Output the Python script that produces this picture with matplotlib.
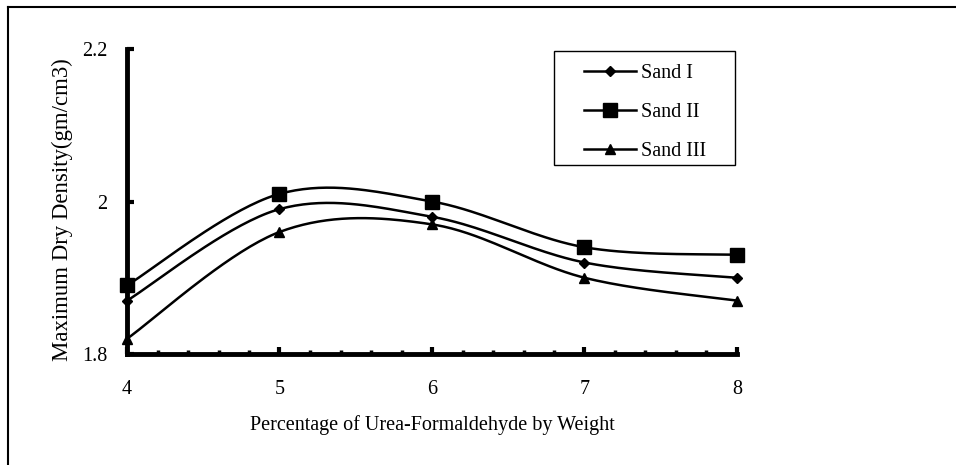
import numpy as np
import matplotlib.pyplot as plt
from matplotlib.lines import Line2D
from matplotlib.patches import Rectangle

# data
pct = [4, 5, 6, 7, 8]
sand_1 = [1.87, 1.99, 1.98, 1.92, 1.90]
sand_2 = [1.89, 2.01, 2.00, 1.94, 1.93]
sand_3 = [1.82, 1.96, 1.97, 1.90, 1.87]
names = ["Sand I", "Sand II", "Sand III"]


def smooth(x, y, n=40):
    """Excel-like smoothed line (Catmull-Rom bezier through the points)."""
    x = np.asarray(x, float)
    y = np.asarray(y, float)
    px = np.r_[x[0], x, x[-1]]
    py = np.r_[y[0], y, y[-1]]
    xs, ys = [], []
    t = np.linspace(0, 1, n)
    for i in range(1, len(px) - 2):
        p0 = np.array([px[i], py[i]])
        p3 = np.array([px[i + 1], py[i + 1]])
        c1 = p0 + (np.array([px[i + 1], py[i + 1]]) - np.array([px[i - 1], py[i - 1]])) / 6
        c2 = p3 - (np.array([px[i + 2], py[i + 2]]) - np.array([px[i], py[i]])) / 6
        b = ((1 - t) ** 3)[:, None] * p0 + (3 * (1 - t) ** 2 * t)[:, None] * c1 \
            + (3 * (1 - t) * t ** 2)[:, None] * c2 + (t ** 3)[:, None] * p3
        xs.append(b[:, 0])
        ys.append(b[:, 1])
    return np.concatenate(xs), np.concatenate(ys)


plt.rcParams['font.family'] = ['Liberation Serif', 'DejaVu Serif']
plt.rcParams['font.size'] = 14.5

W, H = 956, 465
fig = plt.figure(figsize=(W / 100, H / 100), dpi=100)
ax = fig.add_axes([127 / W, 1 - 354 / H, 610 / W, 305 / H])

styles = [dict(marker='D', ms=5), dict(marker='s', ms=10), dict(marker='^', ms=6.5)]
for ys, st in zip([sand_1, sand_2, sand_3], styles):
    sx, sy = smooth(pct, ys)
    ax.plot(sx, sy, color='black', lw=1.8)
    ax.plot(pct, ys, ls='none', color='black', **st)

ax.set_xlim(4, 8)
ax.set_ylim(1.8, 2.2)
ax.set_xticks(pct)
ax.set_xticks(np.arange(4, 8.01, 0.2), minor=True)
ax.set_yticks([1.8, 2.0, 2.2])
ax.set_yticklabels(["1.8", "2", "2.2"])
ax.tick_params(axis='both', which='major', direction='in', length=5, width=3, pad=14)
ax.tick_params(axis='x', which='major', pad=19)
ax.tick_params(axis='x', which='minor', direction='in', length=3, width=2.5)
ax.tick_params(axis='y', which='minor', left=False)
for s in ['top', 'right']:
    ax.spines[s].set_visible(False)
for s in ['left', 'bottom']:
    ax.spines[s].set_linewidth(3.5)
for ln in ax.lines:
    ln.set_clip_on(False)

ax.set_xlabel("Percentage of Urea-Formaldehyde by Weight")
ax.xaxis.set_label_coords(432 / W, 1 - 425 / H, transform=fig.transFigure)
ax.xaxis.label.set_va('center')
ax.set_ylabel("Maximum Dry Density(gm/cm3)", fontsize=16.4)
ax.yaxis.set_label_coords(62 / W, 1 - 210 / H, transform=fig.transFigure)
ax.yaxis.label.set_va('center')

# legend entries without frame, box drawn separately
handles = [Line2D([], [], color='black', lw=1.8, **st) for st in styles]
leg = ax.legend(handles, names, loc='upper left', bbox_to_anchor=(584 / W, 1 - 64 / H),
                bbox_transform=fig.transFigure, frameon=False, handlelength=2.6,
                labelspacing=0.98, borderpad=0, handletextpad=0.25, borderaxespad=0)
fig.add_artist(Rectangle((554 / W, 1 - 165 / H), 181 / W, 114 / H, transform=fig.transFigure,
                         fill=False, edgecolor='black', lw=1.0))

# chart area border (left and top only visible)
fig.add_artist(Line2D([8 / W, 8 / W], [0, 1 - 7 / H], color='black', lw=1.5))
fig.add_artist(Line2D([8 / W, 1], [1 - 7 / H, 1 - 7 / H], color='black', lw=1.5))

fig.savefig("out.png", dpi=100)
